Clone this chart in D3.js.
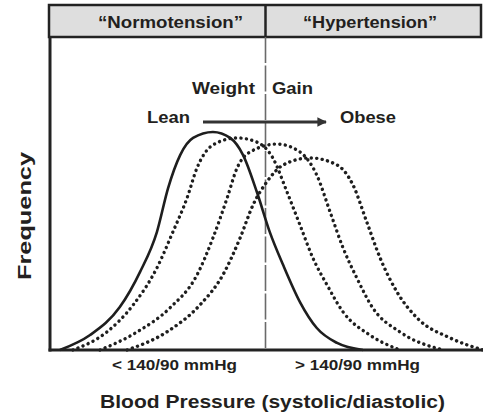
<!DOCTYPE html>
<html>
<head>
<meta charset="utf-8">
<script src="https://cdn.jsdelivr.net/npm/d3@7"></script>
<style>
  html, body { margin: 0; padding: 0; background: #fff; }
  svg text { font-family: "Liberation Sans", Arial, sans-serif; font-weight: bold; fill: #231f20; }
</style>
</head>
<body>
<svg id="chart" width="483" height="414"></svg>
<script>
// Blood pressure index (0-100, threshold 140/90 at 50) and relative frequency (0-100)
const leanBP   = [2.3, 9.3, 16.2, 20.9, 24.8, 27.4, 30.2, 33.2, 37.8, 41.8, 44.8, 48.0, 51.0, 54.1, 58.0, 61.9, 66.6, 72.6];
const leanFreq = [0, 6.8, 19.5, 35.5, 53.6, 73.6, 88.6, 96.4, 99.1, 96.4, 88.6, 71.8, 53.6, 38.6, 21.8, 10.0, 3.2, 0];

const gain1BP   = [5.3, 13.2, 19.3, 24.8, 28.5, 31.8, 34.1, 37.8, 43.4, 48.0, 51.7, 55.0, 58.0, 61.0, 64.3, 68.0, 74.2, 81.2];
const gain1Freq = [0, 8.2, 20.5, 37.3, 53.6, 69.1, 82.7, 93.2, 96.4, 94.5, 87.3, 71.8, 56.8, 41.8, 29.5, 17.3, 6.8, 0];

const gain2BP   = [11.6, 20.2, 27.8, 34.1, 37.8, 41.1, 43.4, 46.4, 52.7, 58.0, 61.9, 65.0, 68.0, 71.2, 74.9, 81.2, 91.2];
const gain2Freq = [0, 8.2, 19.1, 34.1, 50.9, 69.1, 82.7, 90.0, 93.6, 90.0, 79.5, 62.7, 46.4, 32.7, 19.1, 8.2, 0];

const obeseBP   = [17.9, 27.1, 34.8, 40.1, 44.1, 47.1, 50.3, 54.1, 60.3, 66.6, 70.3, 73.5, 76.6, 80.5, 85.2, 92.8, 100.5];
const obeseFreq = [0, 8.2, 20.5, 34.1, 50.9, 65.9, 76.4, 84.1, 87.3, 84.1, 75.0, 58.2, 41.8, 26.4, 14.5, 5.5, 0];

const threshold = 50;
const regionLabels = ["\u201CNormotension\u201D", "\u201CHypertension\u201D"];
const bpLabels = ["< 140/90 mmHg", "> 140/90 mmHg"];

const svg = d3.select("#chart");
const x = d3.scaleLinear().domain([0, 100]).range([50, 481]);
const y = d3.scaleLinear().domain([0, 100]).range([350, 130]);

const series = [
  { bp: leanBP,  f: leanFreq,  solid: true },
  { bp: gain1BP, f: gain1Freq, solid: false },
  { bp: gain2BP, f: gain2Freq, solid: false },
  { bp: obeseBP, f: obeseFreq, solid: false }
];

// header band with the two regions
const hx0 = 49, hx1 = 481, hy0 = 5, hy1 = 37;
svg.append("rect").attr("x", hx0).attr("y", hy0).attr("width", hx1 - hx0).attr("height", hy1 - hy0)
  .attr("fill", "#dedede").attr("stroke", "#222").attr("stroke-width", 2.5);
svg.append("line").attr("x1", x(threshold)).attr("x2", x(threshold)).attr("y1", hy0).attr("y2", hy1)
  .attr("stroke", "#222").attr("stroke-width", 2.5);

// threshold divider through the plot
svg.append("line").attr("x1", x(threshold)).attr("x2", x(threshold)).attr("y1", hy1).attr("y2", y(0))
  .attr("stroke", "#6a6a6a").attr("stroke-width", 1.6).attr("stroke-dasharray", "26 2.5");

// curves
const line = d3.line().x(d => x(d[0])).y(d => y(d[1])).curve(d3.curveMonotoneX);
series.forEach(s => {
  const pts = s.bp.map((v, i) => [Math.min(v, 100.5), s.f[i]]);
  const p = svg.append("path").datum(pts).attr("d", line).attr("fill", "none")
    .attr("stroke", "#1e1e1e");
  if (s.solid) {
    p.attr("stroke-width", 2.6);
  } else {
    p.attr("stroke-width", 3.4).attr("stroke-linecap", "round").attr("stroke-dasharray", "0.1 5.4");
  }
});

// axes lines
svg.append("line").attr("x1", 50).attr("x2", 50).attr("y1", hy1).attr("y2", y(0) + 1.5)
  .attr("stroke", "#222").attr("stroke-width", 3);
svg.append("line").attr("x1", 48.5).attr("x2", 483).attr("y1", y(0)).attr("y2", y(0))
  .attr("stroke", "#222").attr("stroke-width", 3);

// weight-gain arrow
svg.append("defs").append("marker").attr("id", "ah").attr("viewBox", "0 0 10 10")
  .attr("refX", 9).attr("refY", 5).attr("markerWidth", 3.6).attr("markerHeight", 3.2)
  .attr("orient", "auto").attr("markerUnits", "strokeWidth")
  .append("path").attr("d", "M0,0 L10,5 L0,10 Z").attr("fill", "#333");
svg.append("line").attr("x1", 203).attr("x2", 326).attr("y1", 122).attr("y2", 122)
  .attr("stroke", "#333").attr("stroke-width", 3).attr("marker-end", "url(#ah)");

function label(txt, cx, by, size, len, anchor) {
  return svg.append("text").attr("x", cx).attr("y", by).attr("font-size", size)
    .attr("text-anchor", anchor || "middle")
    .attr("textLength", len).attr("lengthAdjust", "spacingAndGlyphs").text(txt);
}

label(regionLabels[0], 170.5, 28, 16, 145);
label(regionLabels[1], 370, 28, 16, 134);
label("Weight", 223.5, 94, 16.5, 63);
label("Gain", 292.5, 94, 16.5, 41);
label("Lean", 168.5, 123, 16.5, 43);
label("Obese", 368, 123, 16.5, 56);
label(bpLabels[0], 174.5, 370, 15, 125);
label(bpLabels[1], 357.5, 370, 15, 125);
label("Blood Pressure (systolic/diastolic)", 272.5, 408, 17.5, 345);

svg.append("text").attr("transform", "translate(31,216) rotate(-90)")
  .attr("text-anchor", "middle").attr("font-size", 18)
  .attr("textLength", 128).attr("lengthAdjust", "spacingAndGlyphs").text("Frequency");
</script>
</body>
</html>
